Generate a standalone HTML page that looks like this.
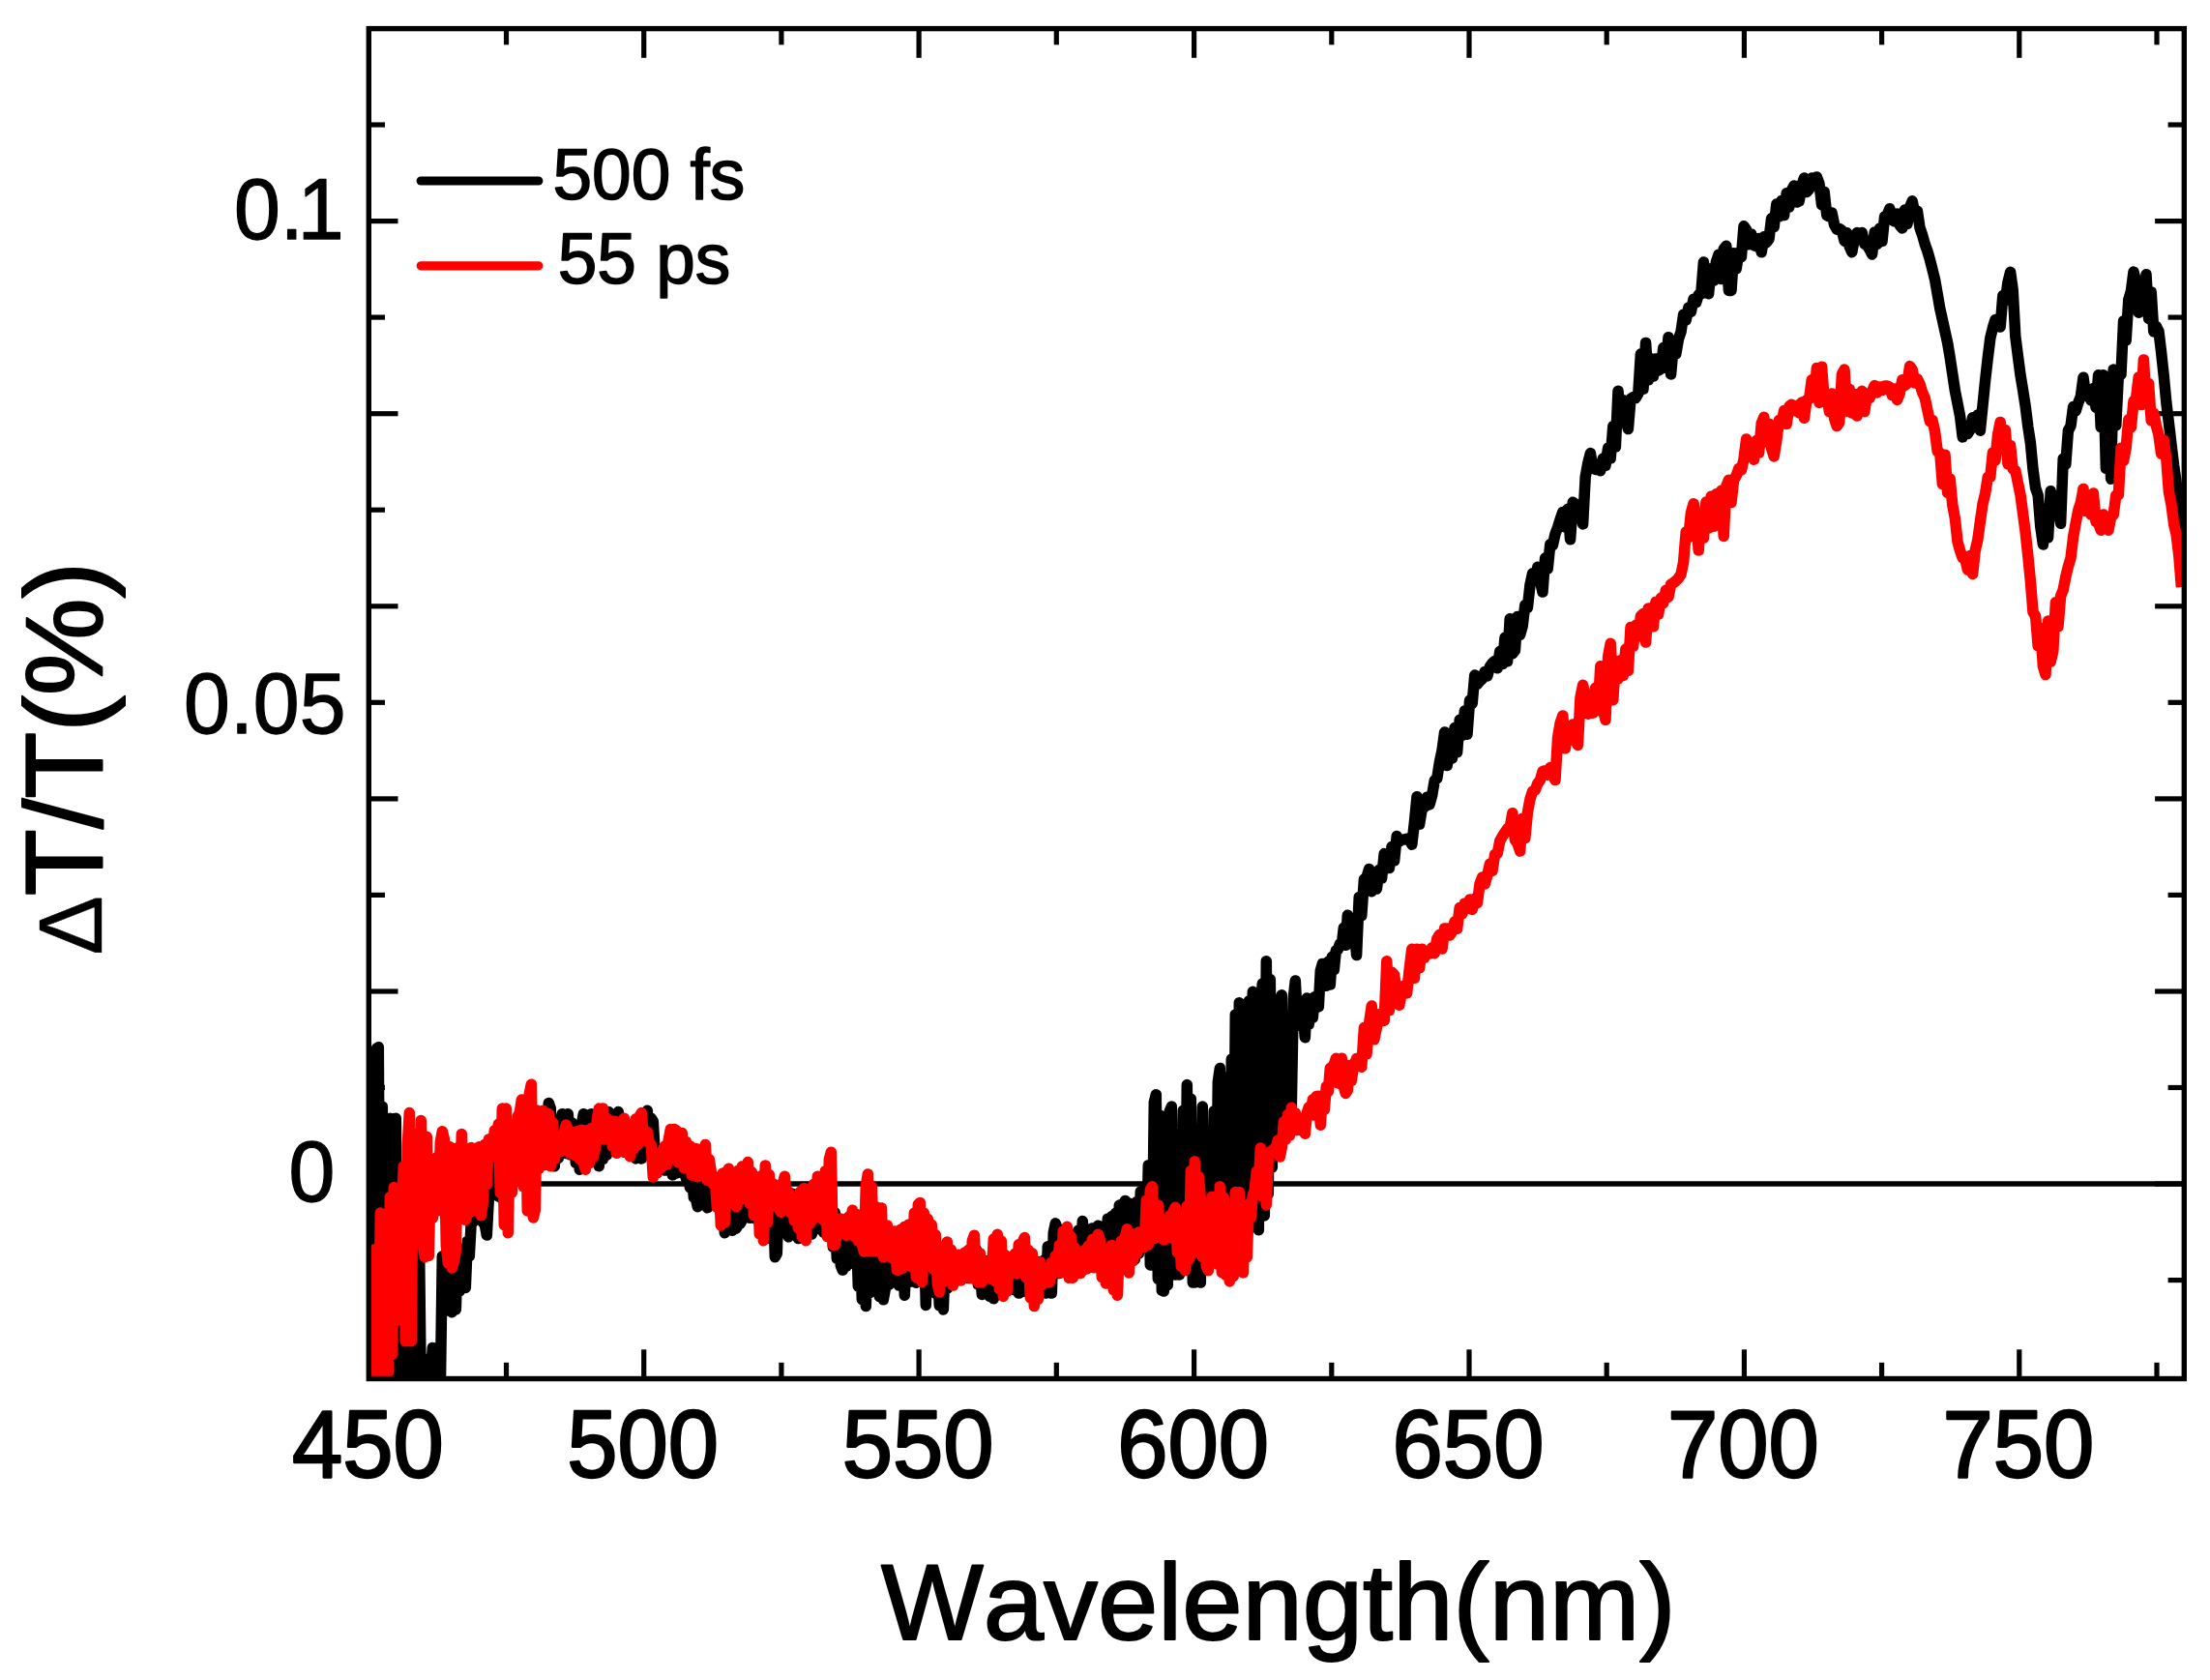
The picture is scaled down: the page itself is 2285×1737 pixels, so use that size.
<!DOCTYPE html>
<html lang="en">
<head>
<meta charset="utf-8">
<title>Transient transmission spectra</title>
<style>
html,body{margin:0;padding:0;background:#fff;}
body{width:2285px;height:1737px;overflow:hidden;}
svg{display:block;}
text{font-family:"Liberation Sans",Arial,Helvetica,sans-serif;fill:#000;font-kerning:none;font-variant-ligatures:none;stroke:#000;stroke-width:0.9;stroke-linejoin:round;}
.xt text{font-size:94px;text-anchor:middle;stroke-width:2.2;}
.yt text{font-size:86px;text-anchor:end;stroke-width:1.3;}
.lg text{font-size:73px;stroke-width:1.5;}
</style>
</head>
<body>
<svg width="2285" height="1737" viewBox="0 0 2285 1737">
<rect x="0" y="0" width="2285" height="1737" fill="#ffffff"/>
<defs><clipPath id="plot"><rect x="381.3" y="29.6" width="1877.0" height="1395.9"/></clipPath></defs>
<line x1="381.3" y1="1224.1" x2="2258.3" y2="1224.1" stroke="#000" stroke-width="5.5"/>
<g stroke="#000" stroke-width="5.2" fill="none">
<line x1="523.5" y1="1424.3" x2="523.5" y2="1408.8"/><line x1="523.5" y1="30.8" x2="523.5" y2="46.3"/><line x1="665.7" y1="1424.3" x2="665.7" y2="1395.3"/><line x1="665.7" y1="30.8" x2="665.7" y2="59.8"/><line x1="807.9" y1="1424.3" x2="807.9" y2="1408.8"/><line x1="807.9" y1="30.8" x2="807.9" y2="46.3"/><line x1="950.1" y1="1424.3" x2="950.1" y2="1395.3"/><line x1="950.1" y1="30.8" x2="950.1" y2="59.8"/><line x1="1092.3" y1="1424.3" x2="1092.3" y2="1408.8"/><line x1="1092.3" y1="30.8" x2="1092.3" y2="46.3"/><line x1="1234.6" y1="1424.3" x2="1234.6" y2="1395.3"/><line x1="1234.6" y1="30.8" x2="1234.6" y2="59.8"/><line x1="1376.8" y1="1424.3" x2="1376.8" y2="1408.8"/><line x1="1376.8" y1="30.8" x2="1376.8" y2="46.3"/><line x1="1519.0" y1="1424.3" x2="1519.0" y2="1395.3"/><line x1="1519.0" y1="30.8" x2="1519.0" y2="59.8"/><line x1="1661.2" y1="1424.3" x2="1661.2" y2="1408.8"/><line x1="1661.2" y1="30.8" x2="1661.2" y2="46.3"/><line x1="1803.4" y1="1424.3" x2="1803.4" y2="1395.3"/><line x1="1803.4" y1="30.8" x2="1803.4" y2="59.8"/><line x1="1945.6" y1="1424.3" x2="1945.6" y2="1408.8"/><line x1="1945.6" y1="30.8" x2="1945.6" y2="46.3"/><line x1="2087.8" y1="1424.3" x2="2087.8" y2="1395.3"/><line x1="2087.8" y1="30.8" x2="2087.8" y2="59.8"/><line x1="2230.0" y1="1424.3" x2="2230.0" y2="1408.8"/><line x1="2230.0" y1="30.8" x2="2230.0" y2="46.3"/><line x1="382.5" y1="1323.6" x2="398.0" y2="1323.6"/><line x1="2257.1" y1="1323.6" x2="2241.6" y2="1323.6"/><line x1="382.5" y1="1224.1" x2="411.5" y2="1224.1"/><line x1="2257.1" y1="1224.1" x2="2228.1" y2="1224.1"/><line x1="382.5" y1="1124.5" x2="398.0" y2="1124.5"/><line x1="2257.1" y1="1124.5" x2="2241.6" y2="1124.5"/><line x1="382.5" y1="1025.0" x2="411.5" y2="1025.0"/><line x1="2257.1" y1="1025.0" x2="2228.1" y2="1025.0"/><line x1="382.5" y1="925.4" x2="398.0" y2="925.4"/><line x1="2257.1" y1="925.4" x2="2241.6" y2="925.4"/><line x1="382.5" y1="825.9" x2="411.5" y2="825.9"/><line x1="2257.1" y1="825.9" x2="2228.1" y2="825.9"/><line x1="382.5" y1="726.3" x2="398.0" y2="726.3"/><line x1="2257.1" y1="726.3" x2="2241.6" y2="726.3"/><line x1="382.5" y1="626.8" x2="411.5" y2="626.8"/><line x1="2257.1" y1="626.8" x2="2228.1" y2="626.8"/><line x1="382.5" y1="527.2" x2="398.0" y2="527.2"/><line x1="2257.1" y1="527.2" x2="2241.6" y2="527.2"/><line x1="382.5" y1="427.7" x2="411.5" y2="427.7"/><line x1="2257.1" y1="427.7" x2="2228.1" y2="427.7"/><line x1="382.5" y1="328.1" x2="398.0" y2="328.1"/><line x1="2257.1" y1="328.1" x2="2241.6" y2="328.1"/><line x1="382.5" y1="228.6" x2="411.5" y2="228.6"/><line x1="2257.1" y1="228.6" x2="2228.1" y2="228.6"/><line x1="382.5" y1="129.0" x2="398.0" y2="129.0"/><line x1="2257.1" y1="129.0" x2="2241.6" y2="129.0"/>
</g>
<g clip-path="url(#plot)" fill="none" stroke-linejoin="round" stroke-linecap="butt">
<path stroke="#000000" stroke-width="11.5" d="M381.3 1438.9 L383.3 1438.9 L385.3 1095.9 L387.3 1438.9 L389.3 1084.0 L391.3 1082.7 L393.3 1438.9 L395.3 1144.0 L397.3 1438.9 L399.3 1429.4 L401.3 1438.9 L403.3 1156.2 L405.3 1438.9 L407.3 1427.4 L409.3 1156.2 L411.3 1438.9 L413.3 1438.9 L415.3 1438.9 L417.3 1425.4 L419.3 1270.0 L421.3 1438.9 L423.3 1431.2 L425.3 1276.0 L427.3 1434.8 L429.3 1267.9 L431.3 1431.6 L433.3 1264.8 L435.3 1438.9 L437.3 1438.9 L439.3 1423.8 L441.3 1438.9 L443.3 1405.0 L445.3 1422.9 L447.3 1393.4 L449.3 1432.0 L451.3 1420.9 L453.3 1407.5 L455.3 1438.9 L457.3 1298.8 L459.3 1355.9 L461.3 1321.2 L463.3 1347.5 L465.3 1314.6 L467.3 1356.8 L469.3 1296.8 L471.3 1354.0 L473.3 1291.8 L475.3 1334.7 L477.3 1315.6 L479.3 1291.3 L481.3 1331.4 L483.3 1283.3 L485.3 1298.6 L487.3 1262.2 L489.3 1263.4 L491.3 1248.8 L493.3 1243.7 L495.3 1258.8 L497.3 1232.2 L499.3 1263.9 L501.3 1266.1 L503.3 1277.1 L505.3 1239.8 L507.3 1197.2 L509.3 1200.6 L511.3 1195.1 L513.3 1233.4 L515.3 1236.9 L517.3 1187.9 L519.3 1239.8 L521.3 1205.0 L523.3 1217.1 L525.3 1203.1 L527.3 1216.4 L529.3 1201.5 L531.3 1218.3 L533.3 1202.4 L535.3 1216.3 L537.3 1202.5 L539.3 1203.1 L541.3 1214.3 L543.3 1201.7 L545.3 1211.0 L547.3 1199.3 L549.3 1206.9 L551.3 1197.8 L553.3 1204.4 L555.3 1201.6 L557.3 1204.5 L559.3 1154.5 L561.3 1204.2 L563.3 1204.4 L565.3 1204.0 L567.3 1140.4 L569.3 1146.2 L571.3 1204.9 L573.3 1205.8 L575.3 1158.3 L577.3 1197.5 L579.3 1163.5 L581.3 1151.7 L583.3 1188.9 L585.3 1192.6 L587.3 1151.7 L589.3 1193.8 L591.3 1160.9 L593.3 1168.3 L595.3 1202.4 L597.3 1165.0 L599.3 1209.2 L601.3 1162.8 L603.3 1151.7 L605.3 1201.9 L607.3 1154.2 L609.3 1198.7 L611.3 1151.7 L613.3 1197.3 L615.3 1157.4 L617.3 1198.9 L619.3 1205.8 L621.3 1167.2 L623.3 1198.5 L625.3 1163.3 L627.3 1194.3 L629.3 1149.5 L631.3 1152.4 L633.3 1185.2 L635.3 1152.2 L637.3 1184.0 L639.3 1149.5 L641.3 1188.3 L643.3 1156.4 L645.3 1191.3 L647.3 1165.4 L649.3 1191.7 L651.3 1164.1 L653.3 1162.2 L655.3 1192.4 L657.3 1197.9 L659.3 1157.6 L661.3 1192.8 L663.3 1197.9 L665.3 1154.0 L667.3 1189.9 L669.3 1148.3 L671.3 1186.5 L673.3 1156.2 L675.3 1159.5 L677.3 1194.3 L679.3 1212.6 L681.3 1202.5 L683.3 1188.5 L685.3 1207.0 L687.3 1210.1 L689.3 1194.4 L691.3 1209.0 L693.3 1195.7 L695.3 1214.9 L697.3 1194.5 L699.3 1213.1 L701.3 1198.2 L703.3 1212.2 L705.3 1211.4 L707.3 1202.2 L709.3 1218.4 L711.3 1207.8 L713.3 1227.7 L715.3 1206.5 L717.3 1238.0 L719.3 1238.5 L721.3 1247.7 L723.3 1214.5 L725.3 1242.8 L727.3 1210.5 L729.3 1244.1 L731.3 1248.8 L733.3 1219.0 L735.3 1219.7 L737.3 1245.7 L739.3 1223.0 L741.3 1243.4 L743.3 1225.7 L745.3 1256.0 L747.3 1228.8 L749.3 1274.8 L751.3 1228.4 L753.3 1268.4 L755.3 1229.4 L757.3 1272.3 L759.3 1230.2 L761.3 1270.0 L763.3 1266.0 L765.3 1265.3 L767.3 1261.2 L769.3 1222.0 L771.3 1257.8 L773.3 1212.8 L775.3 1259.3 L777.3 1224.8 L779.3 1254.4 L781.3 1260.1 L783.3 1227.7 L785.3 1253.0 L787.3 1227.9 L789.3 1224.1 L791.3 1259.5 L793.3 1229.3 L795.3 1224.1 L797.3 1281.1 L799.3 1231.5 L801.3 1299.7 L803.3 1296.0 L805.3 1231.8 L807.3 1228.6 L809.3 1234.7 L811.3 1228.6 L813.3 1274.4 L815.3 1278.8 L817.3 1275.8 L819.3 1234.3 L821.3 1275.0 L823.3 1237.7 L825.3 1280.5 L827.3 1272.7 L829.3 1242.0 L831.3 1238.2 L833.3 1269.3 L835.3 1267.5 L837.3 1239.4 L839.3 1276.0 L841.3 1270.7 L843.3 1270.7 L845.3 1231.8 L847.3 1270.4 L849.3 1228.2 L851.3 1273.9 L853.3 1272.8 L855.3 1224.1 L857.3 1231.5 L859.3 1224.1 L861.3 1289.3 L863.3 1253.7 L865.3 1301.3 L867.3 1267.3 L869.3 1308.5 L871.3 1313.3 L873.3 1268.9 L875.3 1309.1 L877.3 1266.4 L879.3 1306.4 L881.3 1272.6 L883.3 1304.1 L885.3 1264.8 L887.3 1330.0 L889.3 1276.7 L891.3 1343.5 L893.3 1269.4 L895.3 1350.6 L897.3 1269.4 L899.3 1336.6 L901.3 1269.4 L903.3 1270.2 L905.3 1273.8 L907.3 1269.4 L909.3 1340.5 L911.3 1269.4 L913.3 1343.8 L915.3 1332.8 L917.3 1284.7 L919.3 1328.1 L921.3 1280.7 L923.3 1323.2 L925.3 1283.4 L927.3 1280.7 L929.3 1329.0 L931.3 1284.0 L933.3 1280.7 L935.3 1339.3 L937.3 1286.8 L939.3 1325.2 L941.3 1325.2 L943.3 1279.2 L945.3 1324.9 L947.3 1326.3 L949.3 1269.4 L951.3 1269.4 L953.3 1272.0 L955.3 1269.4 L957.3 1349.5 L959.3 1269.4 L961.3 1275.4 L963.3 1332.9 L965.3 1289.3 L967.3 1337.2 L969.3 1310.5 L971.3 1349.9 L973.3 1303.3 L975.3 1354.0 L977.3 1303.3 L979.3 1332.0 L981.3 1303.3 L983.3 1321.6 L985.3 1325.7 L987.3 1321.3 L989.3 1305.0 L991.3 1321.6 L993.3 1322.9 L995.3 1303.4 L997.3 1321.0 L999.3 1302.0 L1001.3 1321.6 L1003.3 1295.3 L1005.3 1296.7 L1007.3 1298.6 L1009.3 1292.0 L1011.3 1328.2 L1013.3 1308.4 L1015.3 1338.4 L1017.3 1309.1 L1019.3 1337.1 L1021.3 1303.8 L1023.3 1340.5 L1025.3 1303.3 L1027.3 1342.7 L1029.3 1337.2 L1031.3 1303.3 L1033.3 1332.5 L1035.3 1308.8 L1037.3 1303.3 L1039.3 1325.0 L1041.3 1306.8 L1043.3 1327.4 L1045.3 1303.3 L1047.3 1333.4 L1049.3 1333.7 L1051.3 1303.3 L1053.3 1337.1 L1055.3 1305.2 L1057.3 1335.5 L1059.3 1333.4 L1061.3 1303.3 L1063.3 1326.2 L1065.3 1303.3 L1067.3 1325.8 L1069.3 1305.7 L1071.3 1329.7 L1073.3 1304.6 L1075.3 1327.8 L1077.3 1331.5 L1079.3 1303.0 L1081.3 1337.1 L1083.3 1288.8 L1085.3 1327.3 L1087.3 1337.1 L1089.3 1274.4 L1091.3 1264.8 L1093.3 1270.7 L1095.3 1316.5 L1097.3 1273.3 L1099.3 1309.9 L1101.3 1282.0 L1103.3 1314.4 L1105.3 1279.5 L1107.3 1280.0 L1109.3 1304.8 L1111.3 1301.8 L1113.3 1275.1 L1115.3 1271.7 L1117.3 1302.1 L1119.3 1262.6 L1121.3 1303.1 L1123.3 1270.9 L1125.3 1301.4 L1127.3 1303.1 L1129.3 1269.9 L1131.3 1299.6 L1133.3 1303.1 L1135.3 1267.2 L1137.3 1302.4 L1139.3 1297.4 L1141.3 1269.2 L1143.3 1303.1 L1145.3 1260.0 L1147.3 1297.9 L1149.3 1257.7 L1151.3 1293.5 L1153.3 1254.5 L1155.3 1296.6 L1157.3 1246.1 L1159.3 1298.5 L1161.3 1246.8 L1163.3 1241.4 L1165.3 1302.3 L1167.3 1243.9 L1169.3 1300.9 L1171.3 1248.3 L1173.3 1302.3 L1175.3 1242.4 L1177.3 1296.2 L1179.3 1231.9 L1181.3 1288.7 L1183.3 1227.5 L1185.3 1289.4 L1187.3 1204.7 L1189.3 1308.0 L1191.3 1308.0 L1193.3 1139.6 L1195.3 1131.7 L1197.3 1322.3 L1199.3 1153.0 L1201.3 1334.1 L1203.3 1335.1 L1205.3 1176.8 L1207.3 1328.7 L1209.3 1149.0 L1211.3 1144.1 L1213.3 1297.1 L1215.3 1318.1 L1217.3 1174.2 L1219.3 1318.1 L1221.3 1312.4 L1223.3 1148.2 L1225.3 1298.4 L1227.3 1121.5 L1229.3 1307.6 L1231.3 1136.1 L1233.3 1326.1 L1235.3 1326.1 L1237.3 1177.4 L1239.3 1320.8 L1241.3 1326.1 L1243.3 1144.1 L1245.3 1295.2 L1247.3 1281.8 L1249.3 1176.7 L1251.3 1285.2 L1253.3 1291.0 L1255.3 1148.7 L1257.3 1291.0 L1259.3 1118.5 L1261.3 1104.5 L1263.3 1291.0 L1265.3 1113.6 L1267.3 1291.0 L1269.3 1284.0 L1271.3 1291.0 L1273.3 1095.1 L1275.3 1291.0 L1277.3 1048.9 L1279.3 1281.4 L1281.3 1036.7 L1283.3 1291.0 L1285.3 1291.0 L1287.3 1291.0 L1289.3 1047.4 L1291.3 1035.0 L1293.3 1263.3 L1295.3 1025.3 L1297.3 1260.4 L1299.3 1264.6 L1301.3 1271.8 L1303.3 1038.4 L1305.3 1017.0 L1307.3 1257.0 L1309.3 993.7 L1311.3 1234.4 L1313.3 1012.5 L1315.3 1207.2 L1317.3 1054.5 L1319.3 1193.8 L1321.3 1032.8 L1323.3 1186.6 L1325.3 1028.7 L1327.3 1177.7 L1329.3 1054.7 L1331.3 1161.1 L1333.3 1053.9 L1335.3 1142.9 L1337.3 1031.8 L1339.3 1014.0 L1341.3 1052.4 L1343.3 1044.3 L1345.3 1060.9 L1347.3 1047.5 L1349.3 1072.7 L1351.3 1032.1 L1353.3 1059.1 L1355.3 1037.1 L1357.3 1052.2 L1359.3 1030.7 L1361.3 1041.6 L1363.3 1040.9 L1365.3 1003.8 L1367.3 996.5 L1369.3 996.8 L1371.3 1019.3 L1373.3 994.3 L1375.3 1018.0 L1377.3 989.3 L1379.3 1002.8 L1381.3 982.7 L1383.3 981.8 L1385.3 976.0 L1387.3 976.8 L1389.3 959.3 L1391.3 977.3 L1393.3 946.3 L1395.3 975.0 L1397.3 974.5 L1399.3 957.1 L1400.0 957.3 L1402.6 987.6 L1405.2 927.6 L1407.8 946.6 L1410.4 909.1 L1413.0 907.2 L1415.6 898.4 L1418.2 921.8 L1420.8 915.0 L1423.4 919.1 L1426.0 899.4 L1428.6 908.1 L1431.2 882.6 L1433.8 884.3 L1436.4 897.6 L1439.0 875.5 L1441.6 889.8 L1444.2 864.4 L1446.8 870.1 L1449.4 868.2 L1452.0 868.1 L1454.6 867.3 L1457.2 867.2 L1459.8 873.3 L1462.4 850.4 L1465.0 823.7 L1467.6 852.3 L1470.2 836.4 L1472.8 834.5 L1475.4 824.3 L1478.0 831.9 L1480.6 822.7 L1483.2 807.1 L1485.8 804.8 L1488.4 788.2 L1491.0 776.0 L1493.6 757.0 L1496.2 791.6 L1498.8 770.0 L1501.4 784.0 L1504.0 752.6 L1506.6 777.7 L1509.2 744.3 L1511.8 760.3 L1514.4 734.9 L1517.0 759.2 L1519.6 724.2 L1522.2 727.3 L1524.8 698.1 L1527.4 707.5 L1530.0 704.2 L1532.6 701.9 L1535.2 694.5 L1537.8 699.1 L1540.4 689.3 L1543.0 685.7 L1545.6 683.5 L1548.2 690.8 L1550.8 673.4 L1553.4 686.6 L1556.0 659.2 L1558.6 683.9 L1561.2 639.7 L1563.8 675.8 L1566.4 672.6 L1569.0 637.4 L1571.6 656.4 L1574.2 647.3 L1576.8 625.6 L1579.4 628.5 L1582.0 604.7 L1584.6 592.8 L1587.2 599.3 L1589.8 586.3 L1592.4 600.8 L1595.0 612.1 L1597.6 577.0 L1600.2 588.2 L1602.8 562.7 L1605.4 563.7 L1608.0 552.0 L1610.6 545.3 L1613.2 536.9 L1615.8 529.4 L1618.4 545.1 L1621.0 526.3 L1623.6 557.8 L1626.2 519.3 L1628.8 521.0 L1631.4 529.0 L1634.0 530.5 L1636.6 542.0 L1639.2 493.2 L1641.8 478.9 L1644.4 468.6 L1647.0 484.2 L1649.6 485.4 L1652.2 484.6 L1654.8 486.7 L1657.4 474.0 L1660.0 481.4 L1662.6 463.2 L1665.2 474.0 L1667.8 440.7 L1670.4 461.9 L1673.0 404.2 L1675.6 433.5 L1678.2 413.6 L1680.8 433.0 L1683.4 443.6 L1686.0 412.5 L1688.6 410.6 L1691.2 411.4 L1693.8 407.1 L1696.4 366.1 L1699.0 402.2 L1701.6 354.4 L1704.2 392.8 L1706.8 370.7 L1709.4 389.1 L1712.0 371.0 L1714.6 383.1 L1717.2 381.6 L1719.8 359.5 L1722.4 378.4 L1725.0 348.7 L1727.6 387.0 L1730.2 357.8 L1732.8 366.1 L1735.4 350.7 L1738.0 343.2 L1740.6 325.2 L1743.2 331.1 L1745.8 318.0 L1748.4 322.3 L1751.0 309.2 L1753.6 312.9 L1756.2 304.7 L1758.8 303.9 L1761.4 271.1 L1764.0 294.7 L1766.6 303.8 L1769.2 277.8 L1771.8 290.2 L1774.4 270.9 L1777.0 263.2 L1779.6 288.5 L1782.2 257.5 L1784.8 254.2 L1787.4 300.4 L1790.0 300.4 L1792.6 261.8 L1795.2 277.9 L1797.8 261.1 L1800.4 265.8 L1803.0 233.8 L1805.6 237.5 L1808.2 252.7 L1810.8 242.2 L1813.4 253.7 L1816.0 254.5 L1818.6 246.5 L1821.2 260.8 L1823.8 244.8 L1826.4 250.7 L1829.0 247.1 L1831.6 225.8 L1834.2 234.5 L1836.8 211.1 L1839.4 223.9 L1842.0 207.4 L1844.6 222.6 L1847.2 199.7 L1849.8 214.2 L1852.4 196.8 L1855.0 191.9 L1857.6 209.1 L1860.2 208.0 L1862.8 192.1 L1865.4 184.0 L1868.0 198.6 L1870.6 195.5 L1873.2 184.1 L1875.8 185.1 L1878.4 182.9 L1881.0 189.9 L1883.6 211.7 L1886.2 198.5 L1888.8 222.6 L1891.4 224.0 L1894.0 219.9 L1896.6 232.4 L1899.2 237.1 L1901.8 236.5 L1904.4 238.3 L1907.0 249.0 L1909.6 240.7 L1912.2 254.8 L1914.8 260.8 L1917.4 246.5 L1920.0 240.6 L1922.6 242.0 L1925.2 240.6 L1927.8 252.1 L1930.4 253.8 L1933.0 257.7 L1935.6 263.0 L1938.2 239.9 L1940.8 252.3 L1943.4 236.2 L1946.0 249.4 L1948.6 223.9 L1951.2 222.6 L1953.8 215.7 L1956.4 227.4 L1959.0 228.9 L1961.6 220.9 L1964.2 232.9 L1966.8 235.9 L1969.4 217.1 L1972.0 231.5 L1974.6 214.3 L1977.2 207.8 L1979.8 221.3 L1982.4 218.2 L1985.0 235.5 L1987.6 243.0 L1990.2 252.3 L1992.8 259.5 L1995.4 268.3 L1998.0 278.7 L2000.6 289.1 L2003.2 304.0 L2005.8 319.1 L2008.4 330.8 L2011.0 342.5 L2013.6 354.2 L2016.2 369.6 L2018.8 386.9 L2021.4 404.1 L2024.0 417.1 L2026.6 430.3 L2029.2 451.9 L2031.8 443.5 L2034.4 448.6 L2037.0 444.3 L2039.6 431.7 L2042.2 433.8 L2044.8 429.0 L2047.4 445.2 L2050.0 419.4 L2052.6 393.5 L2055.2 370.5 L2057.8 349.7 L2060.4 339.0 L2063.0 330.5 L2065.6 333.6 L2068.2 338.1 L2070.8 305.7 L2073.4 310.6 L2076.0 291.9 L2078.6 281.3 L2081.2 299.9 L2083.8 347.8 L2086.4 367.9 L2089.0 387.8 L2091.6 403.4 L2094.2 420.1 L2096.8 441.0 L2099.4 457.9 L2102.0 485.2 L2104.6 504.4 L2107.2 512.1 L2109.8 544.7 L2112.4 563.0 L2115.0 527.0 L2117.6 555.7 L2120.2 507.8 L2122.8 518.5 L2125.4 523.7 L2128.0 522.0 L2130.6 541.2 L2133.2 474.1 L2135.8 480.2 L2138.4 445.1 L2141.0 440.5 L2143.6 420.6 L2146.2 424.9 L2148.8 416.3 L2151.4 409.8 L2154.0 390.2 L2156.6 409.2 L2159.2 405.7 L2161.8 413.8 L2164.4 401.6 L2167.0 421.3 L2169.6 387.8 L2172.2 441.8 L2174.8 387.8 L2177.4 484.3 L2180.0 405.7 L2182.6 495.2 L2185.2 381.9 L2187.8 440.0 L2190.4 387.0 L2193.0 387.3 L2195.6 331.8 L2198.2 352.0 L2200.8 309.6 L2203.4 301.1 L2206.0 281.1 L2208.6 291.3 L2211.2 323.2 L2213.8 296.7 L2216.4 316.7 L2219.0 283.8 L2221.6 329.5 L2224.2 302.0 L2226.8 343.0 L2229.4 337.4 L2232.0 342.5 L2234.6 364.1 L2237.2 388.2 L2239.8 415.8 L2242.4 437.3 L2245.0 459.5 L2247.6 481.2 L2250.2 499.4 L2252.8 514.5 L2255.4 536.9 L2258.0 543.5 L2260.6 584.2"/>
<path stroke="#ff0000" stroke-width="11.5" d="M381.3 1438.9 L383.3 1342.4 L385.3 1438.9 L387.3 1291.8 L389.3 1421.5 L391.3 1438.9 L393.3 1254.1 L395.3 1426.3 L397.3 1438.9 L399.3 1426.0 L401.3 1419.1 L403.3 1237.5 L405.3 1400.7 L407.3 1227.5 L409.3 1366.0 L411.3 1248.5 L413.3 1364.7 L415.3 1248.3 L417.3 1205.9 L419.3 1386.8 L421.3 1184.1 L423.3 1150.6 L425.3 1386.8 L427.3 1173.9 L429.3 1218.3 L431.3 1172.2 L433.3 1269.5 L435.3 1158.5 L437.3 1286.9 L439.3 1299.7 L441.3 1175.2 L443.3 1298.5 L445.3 1209.6 L447.3 1259.5 L449.3 1209.6 L451.3 1196.9 L453.3 1251.8 L455.3 1181.0 L457.3 1169.8 L459.3 1177.4 L461.3 1287.9 L463.3 1305.9 L465.3 1185.7 L467.3 1311.0 L469.3 1304.2 L471.3 1293.4 L473.3 1186.7 L475.3 1257.8 L477.3 1172.5 L479.3 1252.4 L481.3 1261.3 L483.3 1254.7 L485.3 1253.9 L487.3 1186.5 L489.3 1249.3 L491.3 1189.2 L493.3 1252.2 L495.3 1185.8 L497.3 1256.7 L499.3 1242.6 L501.3 1183.2 L503.3 1224.9 L505.3 1178.2 L507.3 1177.4 L509.3 1195.7 L511.3 1168.8 L513.3 1193.9 L515.3 1162.3 L517.3 1233.4 L519.3 1146.1 L521.3 1266.6 L523.3 1146.1 L525.3 1274.8 L527.3 1167.1 L529.3 1233.1 L531.3 1174.7 L533.3 1188.1 L535.3 1154.2 L537.3 1150.5 L539.3 1137.0 L541.3 1227.0 L543.3 1144.1 L545.3 1251.9 L547.3 1130.9 L549.3 1121.2 L551.3 1259.0 L553.3 1251.2 L555.3 1148.1 L557.3 1208.4 L559.3 1152.6 L561.3 1148.3 L563.3 1150.2 L565.3 1204.2 L567.3 1151.5 L569.3 1205.8 L571.3 1160.3 L573.3 1198.3 L575.3 1174.4 L577.3 1190.0 L579.3 1190.6 L581.3 1187.7 L583.3 1170.7 L585.3 1163.0 L587.3 1168.5 L589.3 1192.9 L591.3 1173.5 L593.3 1170.4 L595.3 1195.1 L597.3 1169.5 L599.3 1198.4 L601.3 1168.2 L603.3 1202.3 L605.3 1209.2 L607.3 1168.4 L609.3 1202.6 L611.3 1166.6 L613.3 1196.1 L615.3 1188.1 L617.3 1157.5 L619.3 1146.1 L621.3 1177.1 L623.3 1146.1 L625.3 1178.1 L627.3 1156.2 L629.3 1158.1 L631.3 1158.7 L633.3 1185.3 L635.3 1159.2 L637.3 1192.3 L639.3 1162.2 L641.3 1190.5 L643.3 1160.5 L645.3 1156.2 L647.3 1191.4 L649.3 1163.8 L651.3 1195.7 L653.3 1163.6 L655.3 1187.9 L657.3 1156.9 L659.3 1183.3 L661.3 1154.0 L663.3 1150.6 L665.3 1179.0 L667.3 1178.0 L669.3 1170.3 L671.3 1181.8 L673.3 1184.1 L675.3 1217.1 L677.3 1194.6 L679.3 1212.3 L681.3 1193.3 L683.3 1207.7 L685.3 1189.2 L687.3 1185.0 L689.3 1204.2 L691.3 1178.2 L693.3 1167.6 L695.3 1197.0 L697.3 1167.6 L699.3 1168.7 L701.3 1201.9 L703.3 1171.5 L705.3 1171.6 L707.3 1207.7 L709.3 1180.4 L711.3 1207.7 L713.3 1185.1 L715.3 1215.1 L717.3 1214.4 L719.3 1187.6 L721.3 1216.8 L723.3 1190.8 L725.3 1215.2 L727.3 1190.1 L729.3 1183.4 L731.3 1220.5 L733.3 1198.8 L735.3 1211.6 L737.3 1224.3 L739.3 1216.8 L741.3 1248.4 L743.3 1219.1 L745.3 1266.9 L747.3 1212.9 L749.3 1264.3 L751.3 1214.1 L753.3 1208.3 L755.3 1232.1 L757.3 1216.4 L759.3 1236.6 L761.3 1247.7 L763.3 1210.3 L765.3 1240.4 L767.3 1206.0 L769.3 1206.2 L771.3 1237.3 L773.3 1201.5 L775.3 1244.5 L777.3 1211.7 L779.3 1256.6 L781.3 1221.4 L783.3 1217.3 L785.3 1275.9 L787.3 1215.6 L789.3 1282.8 L791.3 1204.9 L793.3 1264.5 L795.3 1214.4 L797.3 1243.4 L799.3 1224.0 L801.3 1246.8 L803.3 1226.7 L805.3 1249.5 L807.3 1253.3 L809.3 1223.6 L811.3 1216.2 L813.3 1247.5 L815.3 1232.2 L817.3 1253.8 L819.3 1243.3 L821.3 1262.2 L823.3 1238.4 L825.3 1270.0 L827.3 1232.2 L829.3 1278.9 L831.3 1228.5 L833.3 1282.8 L835.3 1229.3 L837.3 1265.4 L839.3 1261.0 L841.3 1224.4 L843.3 1258.9 L845.3 1216.2 L847.3 1255.2 L849.3 1230.4 L851.3 1261.8 L853.3 1210.7 L855.3 1278.5 L857.3 1198.8 L859.3 1191.3 L861.3 1287.3 L863.3 1287.3 L865.3 1275.1 L867.3 1273.8 L869.3 1260.1 L871.3 1273.9 L873.3 1261.7 L875.3 1277.4 L877.3 1258.1 L879.3 1276.8 L881.3 1251.3 L883.3 1278.5 L885.3 1255.4 L887.3 1283.2 L889.3 1256.2 L891.3 1286.7 L893.3 1294.1 L895.3 1226.2 L897.3 1213.9 L899.3 1293.6 L901.3 1226.9 L903.3 1293.9 L905.3 1247.4 L907.3 1293.4 L909.3 1259.6 L911.3 1249.0 L913.3 1299.7 L915.3 1295.2 L917.3 1266.9 L919.3 1299.1 L921.3 1281.2 L923.3 1301.3 L925.3 1273.0 L927.3 1313.3 L929.3 1312.8 L931.3 1271.2 L933.3 1311.3 L935.3 1268.2 L937.3 1304.9 L939.3 1266.3 L941.3 1269.8 L943.3 1310.6 L945.3 1254.1 L947.3 1320.9 L949.3 1245.4 L951.3 1243.4 L953.3 1325.7 L955.3 1254.0 L957.3 1308.1 L959.3 1260.2 L961.3 1306.4 L963.3 1266.3 L965.3 1312.2 L967.3 1276.7 L969.3 1327.8 L971.3 1335.9 L973.3 1300.1 L975.3 1325.3 L977.3 1291.6 L979.3 1284.1 L981.3 1318.4 L983.3 1292.3 L985.3 1329.1 L987.3 1299.8 L989.3 1322.5 L991.3 1297.3 L993.3 1324.1 L995.3 1298.5 L997.3 1295.2 L999.3 1319.1 L1001.3 1292.4 L1003.3 1321.7 L1005.3 1283.0 L1007.3 1277.3 L1009.3 1322.5 L1011.3 1325.7 L1013.3 1295.9 L1015.3 1325.7 L1017.3 1305.9 L1019.3 1320.2 L1021.3 1304.2 L1023.3 1319.7 L1025.3 1322.7 L1027.3 1281.0 L1029.3 1325.0 L1031.3 1276.2 L1033.3 1332.8 L1035.3 1283.1 L1037.3 1340.4 L1039.3 1297.5 L1041.3 1335.0 L1043.3 1306.1 L1045.3 1305.7 L1047.3 1314.5 L1049.3 1296.3 L1051.3 1317.0 L1053.3 1286.8 L1055.3 1316.1 L1057.3 1284.2 L1059.3 1279.6 L1061.3 1321.3 L1063.3 1292.6 L1065.3 1341.7 L1067.3 1295.7 L1069.3 1350.6 L1071.3 1305.4 L1073.3 1343.5 L1075.3 1305.0 L1077.3 1328.7 L1079.3 1321.8 L1081.3 1310.7 L1083.3 1322.1 L1085.3 1325.7 L1087.3 1305.2 L1089.3 1317.1 L1091.3 1298.6 L1093.3 1315.3 L1095.3 1287.4 L1097.3 1315.8 L1099.3 1273.0 L1101.3 1314.6 L1103.3 1268.2 L1105.3 1321.2 L1107.3 1278.6 L1109.3 1321.2 L1111.3 1290.2 L1113.3 1316.8 L1115.3 1304.3 L1117.3 1316.6 L1119.3 1311.9 L1121.3 1292.4 L1123.3 1312.1 L1125.3 1288.2 L1127.3 1310.3 L1129.3 1281.5 L1131.3 1310.8 L1133.3 1283.7 L1135.3 1276.2 L1137.3 1282.0 L1139.3 1320.8 L1141.3 1291.9 L1143.3 1327.0 L1145.3 1326.4 L1147.3 1292.8 L1149.3 1287.5 L1151.3 1333.7 L1153.3 1294.7 L1155.3 1339.3 L1157.3 1292.4 L1159.3 1283.2 L1161.3 1307.0 L1163.3 1279.4 L1165.3 1270.8 L1167.3 1315.9 L1169.3 1275.4 L1171.3 1303.8 L1173.3 1280.6 L1175.3 1295.8 L1177.3 1273.9 L1179.3 1290.2 L1181.3 1285.4 L1183.3 1289.3 L1185.3 1241.1 L1187.3 1287.1 L1189.3 1230.2 L1191.3 1226.7 L1193.3 1280.5 L1195.3 1279.6 L1197.3 1245.9 L1199.3 1278.8 L1201.3 1262.0 L1203.3 1281.9 L1205.3 1261.4 L1207.3 1278.1 L1209.3 1257.1 L1211.3 1279.9 L1213.3 1251.9 L1215.3 1248.2 L1217.3 1295.1 L1219.3 1265.2 L1221.3 1309.2 L1223.3 1263.2 L1225.3 1313.6 L1227.3 1247.0 L1229.3 1302.1 L1231.3 1210.3 L1233.3 1296.1 L1235.3 1200.7 L1237.3 1288.6 L1239.3 1216.5 L1241.3 1238.5 L1243.3 1299.5 L1245.3 1261.2 L1247.3 1308.9 L1249.3 1313.6 L1251.3 1244.9 L1253.3 1237.2 L1255.3 1304.1 L1257.3 1306.3 L1259.3 1307.3 L1261.3 1226.7 L1263.3 1315.5 L1265.3 1238.0 L1267.3 1318.3 L1269.3 1248.5 L1271.3 1324.9 L1273.3 1249.4 L1275.3 1319.7 L1277.3 1232.4 L1279.3 1298.9 L1281.3 1232.4 L1283.3 1296.0 L1285.3 1315.9 L1287.3 1249.6 L1289.3 1300.0 L1291.3 1245.0 L1293.3 1259.1 L1295.3 1235.7 L1297.3 1230.1 L1299.3 1210.9 L1301.3 1223.6 L1303.3 1187.1 L1305.3 1237.2 L1307.3 1196.8 L1309.3 1245.7 L1311.3 1196.8 L1313.3 1190.7 L1315.3 1190.1 L1317.3 1187.8 L1319.3 1186.5 L1321.3 1179.1 L1323.3 1196.0 L1325.3 1186.3 L1327.3 1159.8 L1329.3 1178.0 L1331.3 1152.6 L1333.3 1174.1 L1335.3 1145.3 L1337.3 1168.9 L1339.3 1150.9 L1341.3 1168.5 L1343.3 1155.9 L1345.3 1166.8 L1347.3 1158.7 L1349.3 1172.2 L1351.3 1150.7 L1353.3 1144.5 L1355.3 1152.2 L1357.3 1136.7 L1359.3 1153.1 L1361.3 1133.4 L1363.3 1133.3 L1365.3 1163.2 L1367.3 1133.8 L1369.3 1147.2 L1371.3 1123.5 L1373.3 1128.4 L1375.3 1104.3 L1377.3 1114.9 L1379.3 1100.8 L1381.3 1094.3 L1383.3 1119.9 L1385.3 1120.2 L1387.3 1094.3 L1389.3 1123.7 L1391.3 1130.4 L1393.3 1127.4 L1395.3 1101.5 L1397.3 1117.3 L1399.3 1103.6 L1400.0 1101.7 L1402.6 1094.4 L1405.2 1094.7 L1407.8 1103.2 L1410.4 1062.5 L1413.0 1089.7 L1415.6 1058.0 L1418.2 1040.0 L1420.8 1074.7 L1423.4 1062.4 L1426.0 1048.7 L1428.6 1055.8 L1431.2 1055.1 L1433.8 993.7 L1436.4 1044.5 L1439.0 1005.2 L1441.6 1008.0 L1444.2 1027.2 L1446.8 1039.2 L1449.4 1024.5 L1452.0 1018.8 L1454.6 1026.9 L1457.2 1002.0 L1459.8 981.2 L1462.4 1011.3 L1465.0 981.2 L1467.6 1000.7 L1470.2 981.2 L1472.8 990.3 L1475.4 984.0 L1478.0 986.1 L1480.6 979.7 L1483.2 985.7 L1485.8 970.5 L1488.4 966.4 L1491.0 981.1 L1493.6 959.9 L1496.2 959.9 L1498.8 967.1 L1501.4 963.4 L1504.0 952.8 L1506.6 960.3 L1509.2 938.5 L1511.8 945.0 L1514.4 933.9 L1517.0 939.4 L1519.6 930.0 L1522.2 940.4 L1524.8 929.0 L1527.4 933.8 L1530.0 914.0 L1532.6 906.9 L1535.2 914.1 L1537.8 905.1 L1540.4 893.2 L1543.0 900.4 L1545.6 883.5 L1548.2 882.6 L1550.8 869.4 L1553.4 864.7 L1556.0 860.8 L1558.6 856.8 L1561.2 855.4 L1563.8 840.7 L1566.4 868.3 L1569.0 871.9 L1571.6 880.1 L1574.2 846.2 L1576.8 866.6 L1579.4 840.1 L1582.0 826.3 L1584.6 818.0 L1587.2 817.0 L1589.8 810.1 L1592.4 806.8 L1595.0 797.6 L1597.6 796.8 L1600.2 801.2 L1602.8 793.6 L1605.4 800.8 L1608.0 806.6 L1610.6 762.4 L1613.2 747.5 L1615.8 740.0 L1618.4 773.8 L1621.0 755.2 L1623.6 764.1 L1626.2 749.0 L1628.8 765.8 L1631.4 770.4 L1634.0 721.1 L1636.6 708.3 L1639.2 720.1 L1641.8 738.2 L1644.4 721.8 L1647.0 737.2 L1649.6 711.3 L1652.2 734.5 L1654.8 688.7 L1657.4 733.7 L1660.0 744.3 L1662.6 679.4 L1665.2 665.3 L1667.8 723.7 L1670.4 683.3 L1673.0 701.7 L1675.6 682.8 L1678.2 698.5 L1680.8 671.1 L1683.4 693.3 L1686.0 648.5 L1688.6 668.4 L1691.2 646.6 L1693.8 658.2 L1696.4 637.1 L1699.0 634.4 L1701.6 664.0 L1704.2 628.9 L1706.8 628.9 L1709.4 647.8 L1712.0 622.2 L1714.6 635.0 L1717.2 618.3 L1719.8 623.5 L1722.4 610.2 L1725.0 617.4 L1727.6 604.2 L1730.2 602.6 L1732.8 600.6 L1735.4 597.9 L1738.0 593.8 L1740.6 581.3 L1743.2 549.9 L1745.8 555.7 L1748.4 530.2 L1751.0 520.7 L1753.6 534.0 L1756.2 569.1 L1758.8 531.8 L1761.4 556.2 L1764.0 519.0 L1766.6 546.0 L1769.2 513.2 L1771.8 544.2 L1774.4 510.8 L1777.0 542.1 L1779.6 507.3 L1782.2 554.4 L1784.8 502.6 L1787.4 496.3 L1790.0 519.5 L1792.6 496.1 L1795.2 491.9 L1797.8 484.3 L1800.4 486.1 L1803.0 474.7 L1805.6 453.9 L1808.2 469.3 L1810.8 459.5 L1813.4 475.2 L1816.0 455.6 L1818.6 468.2 L1821.2 437.9 L1823.8 431.3 L1826.4 456.9 L1829.0 438.2 L1831.6 463.8 L1834.2 471.9 L1836.8 455.8 L1839.4 434.6 L1842.0 437.9 L1844.6 424.6 L1847.2 438.4 L1849.8 420.3 L1852.4 418.2 L1855.0 424.8 L1857.6 419.3 L1860.2 426.7 L1862.8 416.1 L1865.4 432.3 L1868.0 413.5 L1870.6 412.5 L1873.2 392.8 L1875.8 410.9 L1878.4 380.4 L1881.0 416.4 L1883.6 379.3 L1886.2 414.2 L1888.8 408.0 L1891.4 425.6 L1894.0 406.9 L1896.6 432.8 L1899.2 440.6 L1901.8 436.8 L1904.4 387.1 L1907.0 382.0 L1909.6 425.2 L1912.2 402.4 L1914.8 427.1 L1917.4 407.4 L1920.0 430.0 L1922.6 408.9 L1925.2 404.2 L1927.8 425.5 L1930.4 407.6 L1933.0 411.7 L1935.6 404.6 L1938.2 398.5 L1940.8 405.9 L1943.4 399.9 L1946.0 403.5 L1948.6 399.1 L1951.2 399.0 L1953.8 400.2 L1956.4 408.7 L1959.0 401.9 L1961.6 413.5 L1964.2 406.6 L1966.8 392.8 L1969.4 398.5 L1972.0 396.4 L1974.6 378.6 L1977.2 382.3 L1979.8 396.0 L1982.4 391.8 L1985.0 397.1 L1987.6 405.7 L1990.2 411.4 L1992.8 423.6 L1995.4 435.7 L1998.0 434.4 L2000.6 446.2 L2003.2 466.8 L2005.8 468.3 L2008.4 500.7 L2011.0 470.2 L2013.6 509.5 L2016.2 495.1 L2018.8 522.3 L2021.4 536.3 L2024.0 559.9 L2026.6 569.4 L2029.2 576.9 L2031.8 577.5 L2034.4 589.1 L2037.0 574.5 L2039.6 593.5 L2042.2 569.4 L2044.8 558.2 L2047.4 539.2 L2050.0 521.2 L2052.6 510.4 L2055.2 493.7 L2057.8 493.2 L2060.4 468.0 L2063.0 475.9 L2065.6 449.1 L2068.2 436.4 L2070.8 462.2 L2073.4 444.8 L2076.0 479.9 L2078.6 460.7 L2081.2 485.0 L2083.8 486.5 L2086.4 499.1 L2089.0 511.6 L2091.6 531.1 L2094.2 550.6 L2096.8 574.7 L2099.4 600.9 L2102.0 632.7 L2104.6 637.1 L2107.2 667.9 L2109.8 649.7 L2112.4 688.9 L2115.0 697.6 L2117.6 641.9 L2120.2 684.2 L2122.8 673.1 L2125.4 622.7 L2128.0 647.9 L2130.6 616.3 L2133.2 609.9 L2135.8 596.4 L2138.4 585.6 L2141.0 577.1 L2143.6 555.3 L2146.2 540.8 L2148.8 527.6 L2151.4 519.5 L2154.0 505.4 L2156.6 528.5 L2159.2 512.9 L2161.8 531.9 L2164.4 510.0 L2167.0 539.4 L2169.6 540.7 L2172.2 548.2 L2174.8 532.0 L2177.4 545.5 L2180.0 548.2 L2182.6 534.7 L2185.2 532.2 L2187.8 512.1 L2190.4 511.5 L2193.0 463.3 L2195.6 476.5 L2198.2 462.9 L2200.8 433.8 L2203.4 441.7 L2206.0 414.9 L2208.6 411.7 L2211.2 389.9 L2213.8 418.6 L2216.4 371.9 L2219.0 416.6 L2221.6 396.7 L2224.2 434.9 L2226.8 427.1 L2229.4 440.0 L2232.0 450.1 L2234.6 469.2 L2237.2 455.2 L2239.8 474.1 L2242.4 508.4 L2245.0 521.7 L2247.6 541.6 L2250.2 553.0 L2252.8 574.3 L2255.4 607.1"/>
</g>
<rect x="381.3" y="29.6" width="1877.0" height="1395.9" fill="none" stroke="#000" stroke-width="5.4"/>
<g class="lg">
<line x1="435.2" y1="187" x2="556.8" y2="187" stroke="#000" stroke-width="9.2" stroke-linecap="round"/>
<line x1="435.2" y1="274.8" x2="556.8" y2="274.8" stroke="#ff0000" stroke-width="9.2" stroke-linecap="round"/>
<text transform="translate(571.5 205.6) scale(1 1.02)">500 fs</text>
<text transform="translate(576.7 293.3) scale(1 1.02)">55 ps</text>
</g>
<g class="yt">
<text transform="translate(0 246.6) scale(1 1.03)" style="text-anchor:start"><tspan x="241.9">0.</tspan><tspan x="307.7">1</tspan></text>
<text transform="translate(357.5 757.6) scale(1 1.025)">0.05</text>
<text transform="translate(346.2 1242) scale(1 1.03)">0</text>
</g>
<g class="xt"><text transform="translate(380.3 1526.8) scale(1 1.04)">450</text><text transform="translate(664.7 1526.8) scale(1 1.04)">500</text><text transform="translate(949.1 1526.8) scale(1 1.04)">550</text><text transform="translate(1233.6 1526.8) scale(1 1.04)">600</text><text transform="translate(1518.0 1526.8) scale(1 1.04)">650</text><text transform="translate(1802.4 1526.8) scale(1 1.04)">700</text><text transform="translate(2086.8 1526.8) scale(1 1.04)">750</text></g>
<text x="911" y="1695" font-size="112" style="stroke-width:2">Wavelength(nm)</text>
<text transform="translate(105.4 987.6) rotate(-90)" font-size="113" style="stroke-width:2"><tspan font-size="92" style="stroke-width:0.4">Δ</tspan>T/T(%)</text>
</svg>
</body>
</html>
